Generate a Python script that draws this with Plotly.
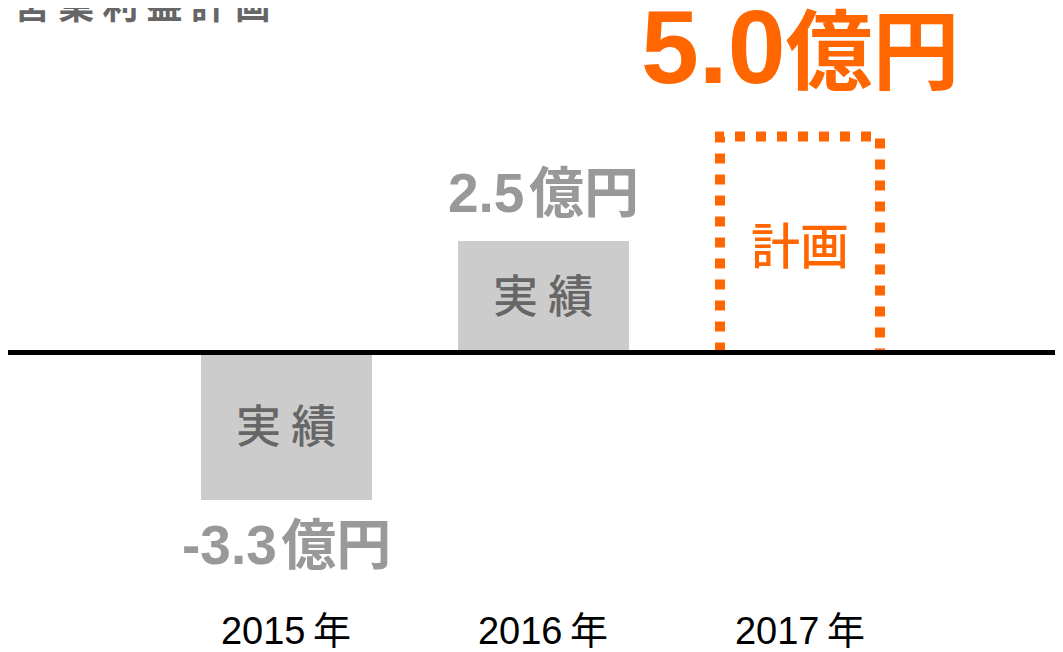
import plotly.graph_objects as go

# ---- data ----
years = ["2015年", "2016年", "2017年"]
values = [-3.3, 2.5, 5.0]
kinds = ["実績", "実績", "計画"]
value_texts = ["-3.3", "2.5", "5.0"]
unit = "億円"
title = "営業利益計画"

# ---- style / geometry (figure pixel coordinates; page body adds 8px offset) ----
W, H = 1063, 652
M = dict(l=0, r=0, t=0, b=55)
PX_PER_UNIT = 44.6
BASE_PX = 344.5
X0_PX, X_STEP_PX = 278, 257
BAR_W = 171 / X_STEP_PX
ORANGE = "#FF6600"
GRAY_BAR = "#CCCCCC"
GRAY_VAL = "#999999"
GRAY_TXT = "#666666"
LATIN = "Liberation Sans, Arial, Noto Sans CJK JP, sans-serif"
CJK = "Noto Sans CJK JP, sans-serif"

plot_h = H - M["t"] - M["b"]
y_top = BASE_PX / PX_PER_UNIT
y_bot = -(plot_h - BASE_PX) / PX_PER_UNIT
x_left = (M["l"] - X0_PX) / X_STEP_PX
x_right = (W - M["r"] - X0_PX) / X_STEP_PX

xs = list(range(len(years)))
year_ticks = [y.replace("年", "\u2009年") for y in years]

fig = go.Figure()

# actual bars
ax = [x for x, k in zip(xs, kinds) if k == "実績"]
av = [v for v, k in zip(values, kinds) if k == "実績"]
fig.add_trace(go.Bar(x=ax, y=av, width=BAR_W, marker=dict(color=GRAY_BAR, line=dict(width=0)),
                     hoverinfo="skip", showlegend=False))

# plan outline (dotted)
inset_x = 5.5 / X_STEP_PX
inset_y = 7 / PX_PER_UNIT
for x, v, k in zip(xs, values, kinds):
    if k != "計画":
        continue
    hw = BAR_W / 2 - inset_x
    top = v - inset_y
    fig.add_trace(go.Scatter(x=[x - hw, x - hw, x + hw, x + hw], y=[0, top, top, 0],
                             mode="lines", line=dict(color=ORANGE, width=10, dash="10px,11px"),
                             hoverinfo="skip", showlegend=False))

# inside labels
for x, v, k in zip(xs, values, kinds):
    if k == "実績":
        fig.add_annotation(x=x, y=v / 2, text="実 績", showarrow=False, yshift=3,
                           font=dict(family=CJK, size=45, color=GRAY_TXT, weight=500))
    else:
        fig.add_annotation(x=x, y=v / 2, text="計画", showarrow=False, yshift=-1,
                           font=dict(family=CJK, size=49, color=ORANGE, weight=500))

# value labels
for x, v, k, t in zip(xs, values, kinds, value_texts):
    if k == "計画":
        fig.add_annotation(x=x, y=v, text=f'<span style="font-size:104px">{t}</span>{unit}',
                           showarrow=False, yanchor="middle", yshift=83,
                           font=dict(family=LATIN, size=87, color=ORANGE, weight="bold"))
    else:
        fig.add_annotation(x=x, y=v, text=f"{t}\u200a{unit}", showarrow=False, yanchor="middle",
                           yshift=48 if v >= 0 else -45,
                           font=dict(family=LATIN, size=55, color=GRAY_VAL, weight="bold"))

# title (partially cut at top)
fig.add_annotation(xref="paper", yref="paper", x=0, y=1, xanchor="left", yanchor="middle",
                   xshift=4, yshift=5, text=" ".join(title), showarrow=False,
                   font=dict(family=CJK, size=36, color=GRAY_TXT, weight="bold"))

# baseline
fig.add_shape(type="line", xref="paper", x0=0, x1=1, yref="y", y0=0, y1=0,
              line=dict(color="black", width=5), layer="above")

fig.update_layout(
    width=W, height=H, margin=M, paper_bgcolor="white", plot_bgcolor="white",
    bargap=0,
    xaxis=dict(range=[x_left, x_right], tickmode="array", tickvals=xs, ticktext=year_ticks,
               showgrid=False, zeroline=False, showline=False, ticks="",
               tickfont=dict(family=LATIN, size=38, color="black"), fixedrange=True),
    yaxis=dict(range=[y_bot, y_top], showgrid=False, zeroline=False, showline=False,
               showticklabels=False, fixedrange=True),
)

fig.write_html("out.html", config={"displayModeBar": False})
